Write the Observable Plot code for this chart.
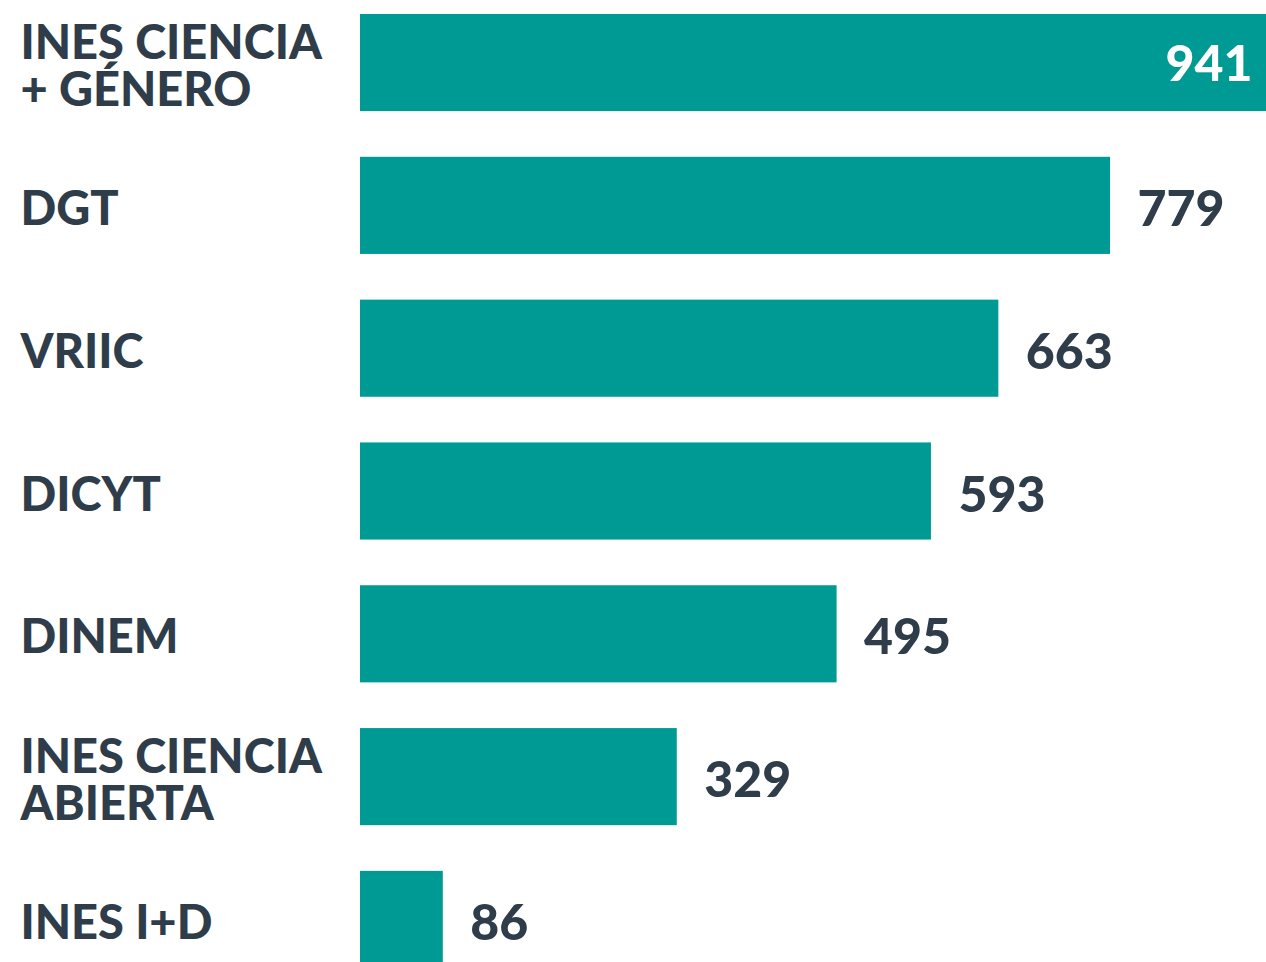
<!DOCTYPE html>
<html>
<head>
<meta charset="utf-8">
<script src="https://cdn.jsdelivr.net/npm/d3@7"></script>
<script src="https://cdn.jsdelivr.net/npm/@observablehq/plot@0.6"></script>
<style>
  html, body { margin: 0; padding: 0; background: #fff; overflow: hidden; }
  #chart svg { display: block; }
</style>
</head>
<body>
<div id="chart"></div>
<script>
const categories = [
  "INES CIENCIA\n+ GÉNERO",
  "DGT",
  "VRIIC",
  "DICYT",
  "DINEM",
  "INES CIENCIA\nABIERTA",
  "INES I+D"
];
const values = [941, 779, 663, 593, 495, 329, 86];

const data = categories.map((c, i) => ({category: c, value: values[i]}));
const maxVal = d3.max(values);

const textColor = "#2f3d4a";
const barColor = "#009a94";
const font = "Lato, 'Open Sans', sans-serif";

const chart = Plot.plot({
  width: 1266,
  height: 968,
  marginLeft: 360,
  marginRight: 0,
  marginTop: 14,
  marginBottom: 0,
  style: {fontFamily: font, background: "#fff"},
  x: {domain: [0, maxVal], axis: null},
  y: {domain: categories, paddingInner: 0.32, paddingOuter: 0, round: false, axis: null},
  marks: [
    Plot.barX(data, {y: "category", x: "value", fill: barColor}),
    Plot.text(data, {
      y: "category", text: "category", frameAnchor: "left", dx: -340, dy: 4,
      textAnchor: "start", lineAnchor: "middle", lineHeight: 1.0,
      fontSize: 47, fontWeight: 900, fill: textColor
    }),
    Plot.text(data.filter(d => d.value !== maxVal), {
      y: "category", x: "value", text: d => String(d.value), dx: 27, dy: 4,
      textAnchor: "start", fontSize: 50, fontWeight: 900, fill: textColor
    }),
    Plot.text(data.filter(d => d.value === maxVal), {
      y: "category", x: "value", text: d => String(d.value), dx: -14, dy: 2,
      textAnchor: "end", fontSize: 50, fontWeight: 900, fill: "#fff"
    })
  ]
});
document.getElementById("chart").appendChild(chart);
</script>
</body>
</html>
